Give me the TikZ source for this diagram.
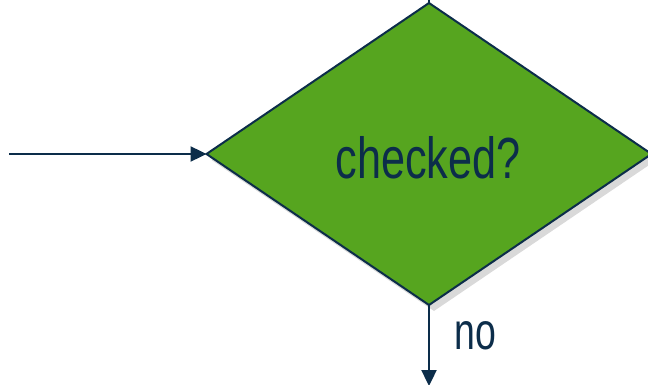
\documentclass[tikz,border=0pt]{standalone}
\usepackage{fontspec}
\setmainfont{Liberation Sans}
\usepackage{graphicx}
\usetikzlibrary{shapes.geometric,arrows.meta,shadows,calc}
\definecolor{dgreen}{HTML}{56A51F}
\definecolor{navy}{HTML}{0C2D4A}
\tikzset{
  decision/.style={diamond, draw=navy, line width=2pt, fill=dgreen,
    minimum width=445pt, minimum height=302pt, inner sep=0pt, outer sep=0pt,
    drop shadow={opacity=0.3, shadow xshift=5pt, shadow yshift=-6pt}},
  flow/.style={draw=navy, line width=2.4pt, -{Triangle[length=16pt,width=15pt]}},
  lbl/.style={text=navy, inner sep=0pt}
}
\begin{document}
\begin{tikzpicture}[x=1pt,y=-1pt]
\useasboundingbox (0,0) rectangle (648,385);
\node[decision] (d) at (429,154) {};
\node[lbl] (t) at (428,158) {\scalebox{0.745}[1]{\fontsize{58}{60}\selectfont checked?}};
\coordinate (in) at (9,154);
\coordinate (top) at (429,-12);
\coordinate (out) at (429,386);
\draw[flow] (in) -- (d.west);
\draw[draw=navy, line width=2.4pt] (top) -- (d.north);
\draw[flow] (d.south) -- (out);
\node[lbl, anchor=west] (no) at (454,336) {\scalebox{0.72}[1]{\fontsize{52}{54}\selectfont no}};
\end{tikzpicture}
\end{document}
